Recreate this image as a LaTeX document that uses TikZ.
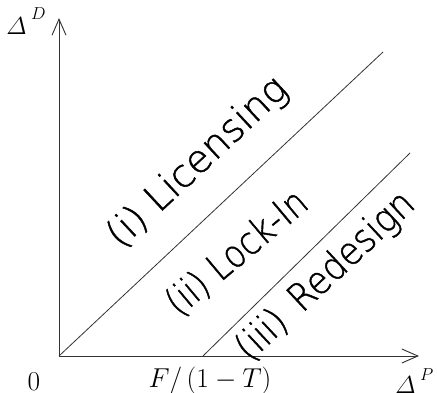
\RequirePackage{fix-cm}
\documentclass[tikz,border=0pt]{standalone}
\usepackage{amsmath}
\usepackage{fontspec}
\newfontfamily\labfont{DejaVu Sans ExtraLight}[RawFeature={embolden=1.2}]
\usetikzlibrary{arrows.meta}
\begin{document}
\begin{tikzpicture}[x=0.75pt,y=-0.75pt,
  axis/.style={draw=black!80,line width=0.7pt,-{Straight Barb[length=12pt,width=10.5pt,line width=0.7pt]}},
  border/.style={draw=black!80,line width=0.6pt},
  region/.style={font=\labfont\fontsize{28.7}{34}\selectfont,inner sep=0pt,anchor=center},
  mathlab/.style={font=\fontsize{20.5}{24}\selectfont,inner sep=0pt},
  dlab/.style={font=\fontsize{18.5}{22}\selectfont,inner sep=0pt,anchor=base west}]
\useasboundingbox (0,0) rectangle (437,393);
\coordinate (O) at (59,356);
\coordinate (Ytop) at (59,18);
\coordinate (Xend) at (419,356);
\coordinate (L1) at (383,52);
\coordinate (F) at (203,356);
\coordinate (L2) at (410,153);
\draw[axis] (O) -- (Ytop);
\draw[axis] (O) -- (Xend);
\draw[border] (O) -- (L1);
\draw[border] (F) -- (L2);
\node[region,rotate=43] (lic) at (198,163) {(i) Licensing};
\node[region,rotate=40,xscale=0.86] (lock) at (237,253) {(ii) Lock-In};
\node[region,rotate=43,xscale=0.9] (red) at (326,277) {(iii)\ \,Redesign};
\node[mathlab] (zero) at (34,382) {$0$};
\node[mathlab] (fl) at (210,381) {$F/\,(1-T)$};
\node[dlab] (dd) at (6,34) {$\varDelta^{\;\raisebox{4pt}{$\scriptstyle D$}}$};
\node[dlab] (dp) at (395,393) {$\varDelta^{\;\raisebox{2.5pt}{$\scriptstyle P$}}$};
\end{tikzpicture}
\end{document}
